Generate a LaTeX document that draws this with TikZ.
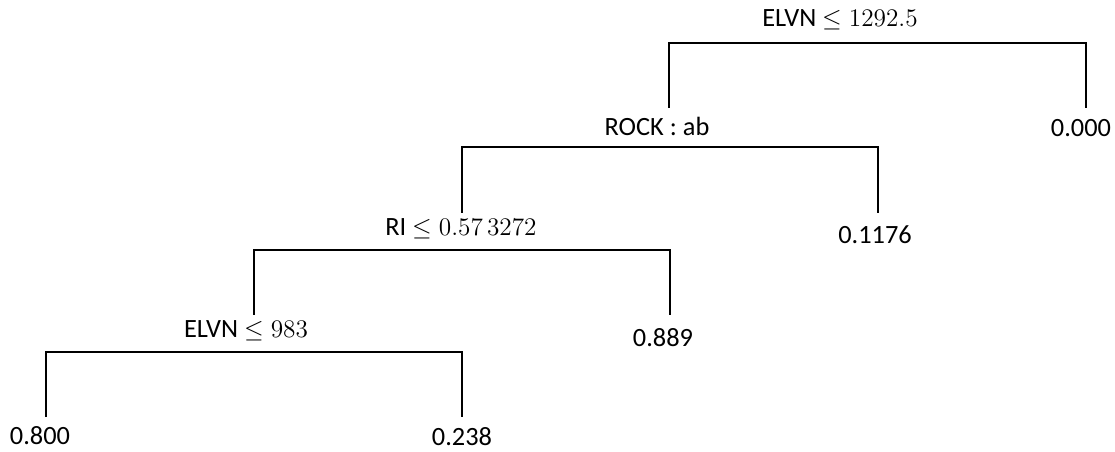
\documentclass[tikz,border=0pt]{standalone}
\usepackage{fontspec}
\setmainfont{Carlito}
\usepackage{amsmath}
\usepackage{amssymb}
\usetikzlibrary{positioning, calc}

\tikzset{
  split/.style={font=\fontsize{15}{18}\selectfont, inner sep=1pt},
  leaf/.style={font=\fontsize{15}{18}\selectfont, inner sep=1pt},
  branch/.style={line width=1.1pt}
}

\begin{document}
\begin{tikzpicture}[x=0.02cm, y=-0.02cm]
    \useasboundingbox (0,0) rectangle (1115,452);

    % Split labels
    \node[split] (root) at (840,20) {ELVN $\leq 1292.5$};
    \node[split] (rock) at (657,126) {ROCK : ab};
    \node[split] (ri)   at (461,229) {RI $\leq 0.57\,3272$};
    \node[split] (elvn) at (246,331) {ELVN $\leq 983$};

    % Leaf values
    \node[leaf] (zero) at (1081,128) {0.000};
    \node[leaf] (lfB)  at (875,235) {0.1176};
    \node[leaf] (lfC)  at (663,338) {0.889};
    \node[leaf] (lfD)  at (40,436) {0.800};
    \node[leaf] (lfE)  at (462,437) {0.238};

    % Branch tips and bars
    \coordinate (rockTip) at (669,108);
    \coordinate (zeroTip) at (1086,108);
    \coordinate (riTip)   at (462,213);
    \coordinate (lfBTip)  at (878,213);
    \coordinate (elvnTip) at (254,315);
    \coordinate (lfCTip)  at (670,315);
    \coordinate (lfDTip)  at (46,417);
    \coordinate (lfETip)  at (462,417);
    \coordinate (barA) at (0,43);
    \coordinate (barB) at (0,147);
    \coordinate (barC) at (0,250);
    \coordinate (barD) at (0,352);

    % Branches
    \foreach \l/\r/\b in {rockTip/zeroTip/barA, riTip/lfBTip/barB,
                          elvnTip/lfCTip/barC, lfDTip/lfETip/barD} {
        \draw[branch] (\l) -- (\l |- \b) -- (\r |- \b) -- (\r);
    }
\end{tikzpicture}
\end{document}
